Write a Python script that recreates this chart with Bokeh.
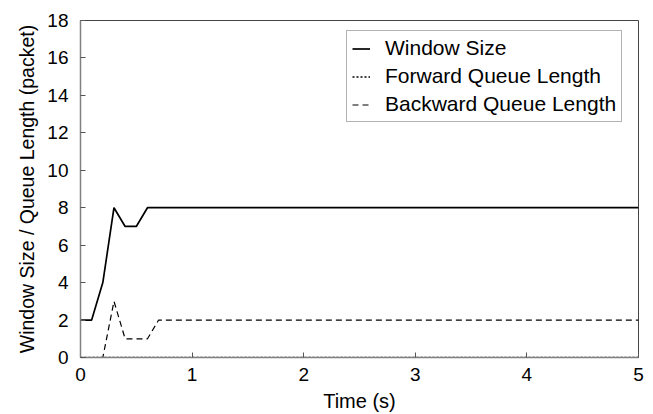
from bokeh.plotting import figure
from bokeh.models import Range1d, FixedTicker, Legend, LegendItem
from bokeh.embed import file_html
from bokeh.resources import INLINE

# Congestion window and queue lengths over time (packets)
time_window = [0.0, 0.1, 0.2, 0.3, 0.4, 0.5, 0.6, 5.0]
window_size = [2, 2, 4, 8, 7, 7, 8, 8]

time_forward = [0.0, 5.0]
forward_queue = [0, 0]

time_backward = [0.0, 0.2, 0.3, 0.4, 0.6, 0.7, 5.0]
backward_queue = [0, 0, 3, 1, 1, 2, 2]

x_ticks = [0, 1, 2, 3, 4, 5]
y_ticks = [0, 2, 4, 6, 8, 10, 12, 14, 16, 18]

series_labels = ["Window Size", "Forward Queue Length", "Backward Queue Length"]

FONT = "Liberation Sans"

p = figure(width=653, height=414, output_backend="svg", toolbar_location=None,
           x_range=Range1d(0, 5), y_range=Range1d(0, 18),
           min_border_left=80, min_border_right=15,
           min_border_top=20, min_border_bottom=57)

p.xgrid.visible = False
p.ygrid.visible = False
p.outline_line_color = "#444444"
p.outline_line_width = 1
p.background_fill_color = "white"
p.border_fill_color = "white"

for ax in (p.xaxis[0], p.yaxis[0]):
    ax.major_tick_in = 5
    ax.major_tick_out = 0
    ax.minor_tick_line_color = None
    ax.axis_line_color = "#808080"
    ax.axis_line_width = 1.5
    ax.major_tick_line_color = "#555555"
    ax.major_label_text_font = FONT
    ax.major_label_text_font_size = "19px"
    ax.major_label_text_color = "black"
    ax.axis_label_text_font = FONT
    ax.axis_label_text_font_style = "normal"
    ax.axis_label_text_color = "black"

p.xaxis.axis_label_text_font_size = "20px"
p.yaxis.axis_label_text_font_size = "19.5px"
p.xaxis.ticker = FixedTicker(ticks=x_ticks)
p.yaxis.ticker = FixedTicker(ticks=y_ticks)
p.xaxis.axis_label = "Time (s)"
p.yaxis.axis_label = "Window Size / Queue Length (packet)"
p.xaxis.major_label_standoff = 10
p.yaxis.major_label_standoff = 12
p.xaxis.axis_label_standoff = 6
p.yaxis.axis_label_standoff = 6

r_win = p.line(time_window, window_size, line_color="black", line_width=1.7)
r_fwd = p.line(time_forward, forward_queue, line_color="black", line_width=1.4,
               line_dash="2 2")
r_bwd = p.line(time_backward, backward_queue, line_color="black", line_width=1.2,
               line_dash="6 4")

legend = Legend(items=[LegendItem(label=series_labels[0], renderers=[r_win]),
                       LegendItem(label=series_labels[1], renderers=[r_fwd]),
                       LegendItem(label=series_labels[2], renderers=[r_bwd])],
                location=(266, 235))
legend.label_text_font = FONT
legend.label_text_font_size = "21px"
legend.label_text_color = "black"
legend.glyph_width = 18
legend.glyph_height = 21
legend.label_height = 21
legend.label_standoff = 15
legend.spacing = 4
legend.padding = 5
legend.margin = 0
legend.border_line_color = "#666666"
legend.border_line_width = 1
legend.background_fill_alpha = 1
p.add_layout(legend, "center")

open("out.html", "w").write(file_html(p, INLINE))
